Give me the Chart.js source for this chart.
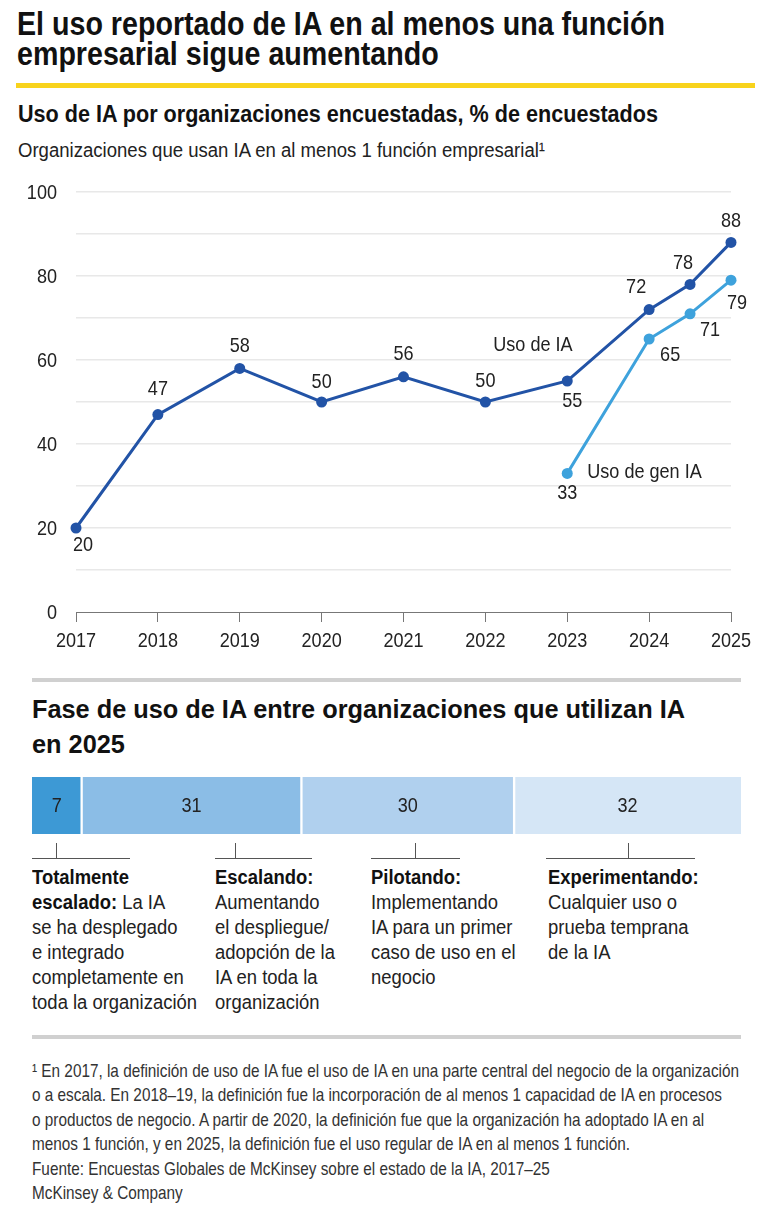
<!DOCTYPE html>
<html>
<head>
<meta charset="utf-8">
<script src="https://cdn.jsdelivr.net/npm/chart.js@4"></script>
<style>
  body { margin: 0; background: #fff; width: 770px; height: 1214px; position: relative; overflow: hidden;
         font-family: "Liberation Sans", Arial, sans-serif; color: #111; }
  .abs { position: absolute; white-space: nowrap; transform-origin: 0 0; }
  #title { left: 17px; top: 9px; font-size: 33px; font-weight: bold; line-height: 30px; }
  #yellow { left: 16px; top: 83px; width: 739px; height: 5px; background: #f8d31c; }
  #subtitle { left: 18px; top: 101px; font-size: 23px; font-weight: bold; }
  #subsub { left: 18px; top: 139px; font-size: 20px; color: #222; }
  #lineWrap { left: 0; top: 170px; width: 770px; height: 490px; }
  .rule { position: absolute; left: 32px; width: 709px; height: 4px; background: #d0d0d0; }
  #title2 { left: 32px; top: 692px; font-size: 25px; font-weight: bold; line-height: 35px; }
  #barWrap { left: 0; top: 777px; width: 770px; height: 57px; }
  .brk-v { position: absolute; width: 1px; height: 15px; top: 843px; background: #555; }
  .brk-h { position: absolute; height: 1px; top: 858px; background: #555; }
  .desc { top: 865px; font-size: 20px; line-height: 25px; color: #222; }
  .desc b { color: #111; }
  #foot { left: 32px; top: 1059px; font-size: 18.5px; line-height: 24.4px; color: #333; }
</style>
</head>
<body>
<div id="title" class="abs" data-w="648">El uso reportado de IA en al menos una función<br>empresarial sigue aumentando</div>
<div id="yellow" class="abs"></div>
<div id="subtitle" class="abs" data-w="640">Uso de IA por organizaciones encuestadas, % de encuestados</div>
<div id="subsub" class="abs" data-w="527">Organizaciones que usan IA en al menos 1 función empresarial¹</div>
<div id="lineWrap" class="abs"><canvas id="lineChart" width="770" height="490"></canvas></div>

<div class="rule" style="top:678px"></div>
<div id="title2" class="abs" data-w="653">Fase de uso de IA entre organizaciones que utilizan IA<br>en 2025</div>
<div id="barWrap" class="abs"><canvas id="barChart" width="770" height="57"></canvas></div>

<div class="brk-v" style="left:56px"></div><div class="brk-h" style="left:32px;width:98px"></div>
<div class="brk-v" style="left:235px"></div><div class="brk-h" style="left:215px;width:97px"></div>
<div class="brk-v" style="left:415px"></div><div class="brk-h" style="left:371px;width:89px"></div>
<div class="brk-v" style="left:628px"></div><div class="brk-h" style="left:546px;width:149px"></div>

<div id="d1" class="abs desc" style="left:32px"><b>Totalmente<br>escalado:</b> La IA<br>se ha desplegado<br>e integrado<br>completamente en<br>toda la organización</div>
<div class="abs desc" style="left:215px"><b>Escalando:</b><br>Aumentando<br>el despliegue/<br>adopción de la<br>IA en toda la<br>organización</div>
<div class="abs desc" style="left:371px"><b>Pilotando:</b><br>Implementando<br>IA para un primer<br>caso de uso en el<br>negocio</div>
<div class="abs desc" style="left:548px"><b>Experimentando:</b><br>Cualquier uso o<br>prueba temprana<br>de la IA</div>

<div class="rule" style="top:1035px"></div>
<div id="foot" class="abs" data-w="707">¹ En 2017, la definición de uso de IA fue el uso de IA en una parte central del negocio de la organización<br>o a escala. En 2018–19, la definición fue la incorporación de al menos 1 capacidad de IA en procesos<br>o productos de negocio. A partir de 2020, la definición fue que la organización ha adoptado IA en al<br>menos 1 función, y en 2025, la definición fue el uso regular de IA en al menos 1 función.<br>Fuente: Encuestas Globales de McKinsey sobre el estado de la IA, 2017–25<br>McKinsey &amp; Company</div>

<script>
const FONT = '"Liberation Sans", Arial, sans-serif';
const SX = 0.86; // horizontal squeeze for the condensed look

// --- data: line chart ---
const years = [2017, 2018, 2019, 2020, 2021, 2022, 2023, 2024, 2024.5, 2025];
const usoIA = [20, 47, 58, 50, 56, 50, 55, 72, 78, 88];
const genYears = [2023, 2024, 2024.5, 2025];
const usoGenIA = [33, 65, 71, 79];
const yTicks = [0, 20, 40, 60, 80, 100];
const xTicks = [2017, 2018, 2019, 2020, 2021, 2022, 2023, 2024, 2025];
const seriesNames = ["Uso de IA", "Uso de gen IA"];

// --- data: stacked bar ---
const phases = ["Totalmente escalado", "Escalando", "Pilotando", "Experimentando"];
const phaseValues = [7, 31, 30, 32];

// squeeze html text blocks to the widths of the original
document.querySelectorAll("[data-w]").forEach((el) => {
  el.style.transform = "scaleX(" + (el.dataset.w / el.getBoundingClientRect().width) + ")";
});
const descScale = 165 / document.getElementById("d1").getBoundingClientRect().width;
document.querySelectorAll(".desc").forEach((el) => { el.style.transform = "scaleX(" + descScale + ")"; });

// label placement (pixel offsets from each point)
const usoOffsets = [[7, 17], [0, -25], [0, -22], [0, -20], [0, -23], [0, -21], [5, 20], [-13, -22], [-7, -21], [0, -21]];
const genOffsets = [[0, 20], [21, 16], [20, 16], [6, 23]];
const seriesLabelPos = [{ idx: 6, dx: -74, dy: -36, align: "left" }, { idx: 0, dx: 20, dy: -1, align: "left" }];

const DARK = "#2253a6";
const LIGHT = "#3ea2dc";

function drawText(ctx, text, x, y, align) {
  ctx.save();
  ctx.translate(x, y);
  ctx.scale(SX, 1);
  ctx.textAlign = align;
  ctx.textBaseline = "middle";
  ctx.fillText(text, 0, 0);
  ctx.restore();
}

const chartTexts = {
  id: "chartTexts",
  afterDraw(chart) {
    const ctx = chart.ctx;
    const xs = chart.scales.x, ys = chart.scales.y;
    ctx.save();
    ctx.font = "21px " + FONT;
    ctx.fillStyle = "#222";
    xTicks.forEach((v) => drawText(ctx, String(v), xs.getPixelForValue(v), xs.top + 29, "center"));
    yTicks.forEach((v) => drawText(ctx, String(v), chart.chartArea.left - 19, ys.getPixelForValue(v) + 1, "right"));
    chart.data.datasets.forEach((ds, di) => {
      const meta = chart.getDatasetMeta(di);
      const offs = di === 0 ? usoOffsets : genOffsets;
      meta.data.forEach((pt, i) => {
        drawText(ctx, String(ds.data[i].y), pt.x + offs[i][0], pt.y + offs[i][1], "center");
      });
      const sp = seriesLabelPos[di];
      const p = meta.data[sp.idx];
      drawText(ctx, seriesNames[di], p.x + sp.dx, p.y + sp.dy, sp.align);
    });
    ctx.restore();
  }
};

new Chart(document.getElementById("lineChart"), {
  type: "line",
  data: {
    datasets: [
      {
        label: seriesNames[0],
        data: years.map((x, i) => ({ x, y: usoIA[i] })),
        borderColor: DARK, backgroundColor: DARK,
        borderWidth: 3, pointRadius: 5.5, pointBorderWidth: 0, clip: false, tension: 0
      },
      {
        label: seriesNames[1],
        data: genYears.map((x, i) => ({ x, y: usoGenIA[i] })),
        borderColor: LIGHT, backgroundColor: LIGHT,
        borderWidth: 3, pointRadius: 5.5, pointBorderWidth: 0, clip: false, tension: 0
      }
    ]
  },
  options: {
    responsive: false,
    animation: false,
    devicePixelRatio: 1,
    layout: { padding: { top: 22, right: 39, left: 0, bottom: 0 } },
    plugins: { legend: { display: false }, tooltip: { enabled: false } },
    scales: {
      x: {
        type: "linear",
        min: 2017, max: 2025,
        afterBuildTicks: (s) => { s.ticks = xTicks.map((v) => ({ value: v })); },
        afterFit: (s) => { s.height = 48; },
        border: { display: true, color: "#777", width: 1 },
        grid: { drawOnChartArea: false, drawTicks: true, tickLength: 10, color: "#777" },
        ticks: { display: false }
      },
      y: {
        min: 0, max: 100,
        ticks: { display: false, stepSize: 10 },
        afterFit: (s) => { s.width = 76; },
        border: { display: false },
        grid: { drawTicks: false, lineWidth: 1.5, color: (c) => (c.tick && c.tick.value === 0 ? "rgba(0,0,0,0)" : "#e8e8e8") }
      }
    }
  },
  plugins: [chartTexts]
});

// --- stacked bar ---
const phaseColors = ["#3d99d5", "#8bbde6", "#b0d0ee", "#d5e6f6"];
const barLabels = {
  id: "barLabels",
  afterDatasetsDraw(chart) {
    const ctx = chart.ctx;
    ctx.save();
    ctx.font = "21px " + FONT;
    ctx.fillStyle = "#222";
    chart.data.datasets.forEach((ds, di) => {
      const el = chart.getDatasetMeta(di).data[0];
      drawText(ctx, String(ds.data[0]), (el.x + el.base) / 2, el.y + 1, "center");
    });
    ctx.restore();
  }
};

new Chart(document.getElementById("barChart"), {
  type: "bar",
  data: {
    labels: ["2025"],
    datasets: phases.map((p, i) => ({
      label: p,
      data: [phaseValues[i]],
      backgroundColor: phaseColors[i],
      borderColor: "#fff",
      borderSkipped: false,
      borderWidth: { top: 0, bottom: 0, left: i === 0 ? 0 : 1.5, right: i === phases.length - 1 ? 0 : 1.5 }
    }))
  },
  options: {
    indexAxis: "y",
    responsive: false,
    animation: false,
    devicePixelRatio: 1,
    layout: { padding: { left: 32, right: 29, top: 0, bottom: 0 } },
    plugins: { legend: { display: false }, tooltip: { enabled: false } },
    scales: {
      x: { stacked: true, min: 0, max: 100, display: false },
      y: { stacked: true, display: false }
    },
    datasets: { bar: { barPercentage: 1, categoryPercentage: 1 } }
  },
  plugins: [barLabels]
});
</script>
</body>
</html>
